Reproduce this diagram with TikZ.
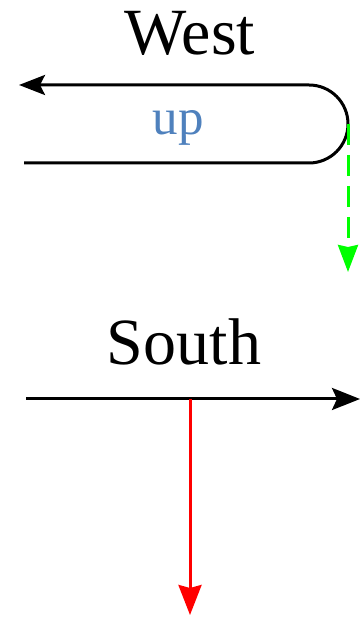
\documentclass[tikz,border=0pt]{standalone}
\usepackage{fontspec}
\setmainfont{Liberation Serif}
\usetikzlibrary{arrows.meta}
\definecolor{upblue}{HTML}{4F81BD}
\definecolor{grn}{HTML}{00FF00}
\definecolor{rd}{HTML}{FF0000}
\begin{document}
\begin{tikzpicture}[x=1pt,y=1pt,
  lbl/.style={anchor=base,inner sep=0pt,font=\fontsize{66}{70}\selectfont},
  ln/.style={line width=3pt},
  blk/.style={ln,black,-{Stealth[length=26pt,width=20pt,inset=5pt]}},
  grnarr/.style={ln,grn,dash pattern=on 21pt off 10pt,-{Stealth[length=27pt,width=20pt,inset=2pt]}},
  redarr/.style={ln,rd,-{Stealth[length=30pt,width=23pt,inset=3pt]}}]
\useasboundingbox (0,0) rectangle (361,620);
\node[lbl] (west) at (190,565) {West};
\node[lbl,font=\fontsize{51}{55}\selectfont,text=upblue] (up) at (178,485) {up};
\node[lbl] (south) at (184,255) {South};
% west loop
\coordinate (lb) at (24,457);
\coordinate (lt) at (19,535);
\coordinate (arcs) at (309,457);
\draw[blk] (lb) -- (arcs) arc[start angle=-90,end angle=90,radius=39] -- (lt);
\coordinate (g0) at (348,496);
\coordinate (g1) at (348,348);
\draw[grnarr] (g0) -- (g1);
% south
\coordinate (s0) at (26,221);
\coordinate (s1) at (360,221);
\draw[blk,-{Stealth[length=28pt,width=22pt,inset=5pt]}] (s0) -- (s1);
\coordinate (r0) at (190,221);
\coordinate (r1) at (190,5);
\draw[redarr] (r0) -- (r1);
\end{tikzpicture}
\end{document}
